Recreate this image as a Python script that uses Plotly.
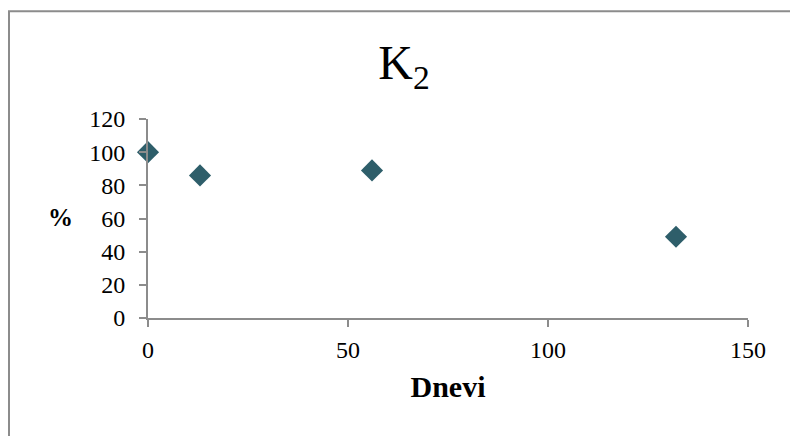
import plotly.graph_objects as go

days = [0, 13, 56, 132]
percent = [100, 86, 89, 49]
x_ticks = [0, 50, 100, 150]
y_ticks = [0, 20, 40, 60, 80, 100, 120]

serif = "Liberation Serif, Times New Roman, serif"
axis_col = "#8c8c8c"

fig = go.Figure()
fig.add_trace(go.Scatter(
    x=days, y=percent, mode="markers", cliponaxis=False,
    marker=dict(symbol="diamond", size=17, color="#2E5E6A", line=dict(width=0)),
    showlegend=False,
))

fig.update_layout(
    width=790, height=436,
    margin=dict(l=148, r=42, t=119, b=118),
    paper_bgcolor="white", plot_bgcolor="white",
    font=dict(family=serif, size=24, color="black"),
    title=dict(text="K<sub>2</sub>", x=404/790, xanchor="center",
               y=1 - 62/436, yanchor="middle",
               font=dict(family=serif, size=48, color="black")),
    shapes=[dict(type="rect", xref="paper", yref="paper",
                 x0=-148/600 + 9/600, x1=1.2, y0=-0.8, y1=1 + 108/199.3,
                 line=dict(color="#8c8c8c", width=2), fillcolor="rgba(0,0,0,0)",
                 layer="below")],
)

fig.update_xaxes(
    range=[0, 150], tickvals=x_ticks, showgrid=False, zeroline=False,
    showline=True, linecolor=axis_col, linewidth=2,
    ticks="outside", ticklen=7, tickcolor=axis_col, tickwidth=2,
    tickfont=dict(family=serif, size=24, color="black"),
    ticklabelstandoff=2,
    title=dict(text="<b>Dnevi</b>", font=dict(family=serif, size=30), standoff=14),
)
fig.update_yaxes(
    range=[0, 120], tickvals=y_ticks, showgrid=False, zeroline=False,
    showline=True, linecolor=axis_col, linewidth=2,
    ticks="outside", ticklen=7, tickcolor=axis_col, tickwidth=2,
    tickfont=dict(family=serif, size=24, color="black"),
    ticklabelstandoff=9,
)
fig.add_annotation(text="<b>%</b>", xref="paper", yref="paper",
                   x=(60 - 148) / 600, y=(318.3 - 218) / 199.3,
                   showarrow=False, xanchor="center", yanchor="middle",
                   font=dict(family=serif, size=25, color="black"))

fig.write_html("out.html")
